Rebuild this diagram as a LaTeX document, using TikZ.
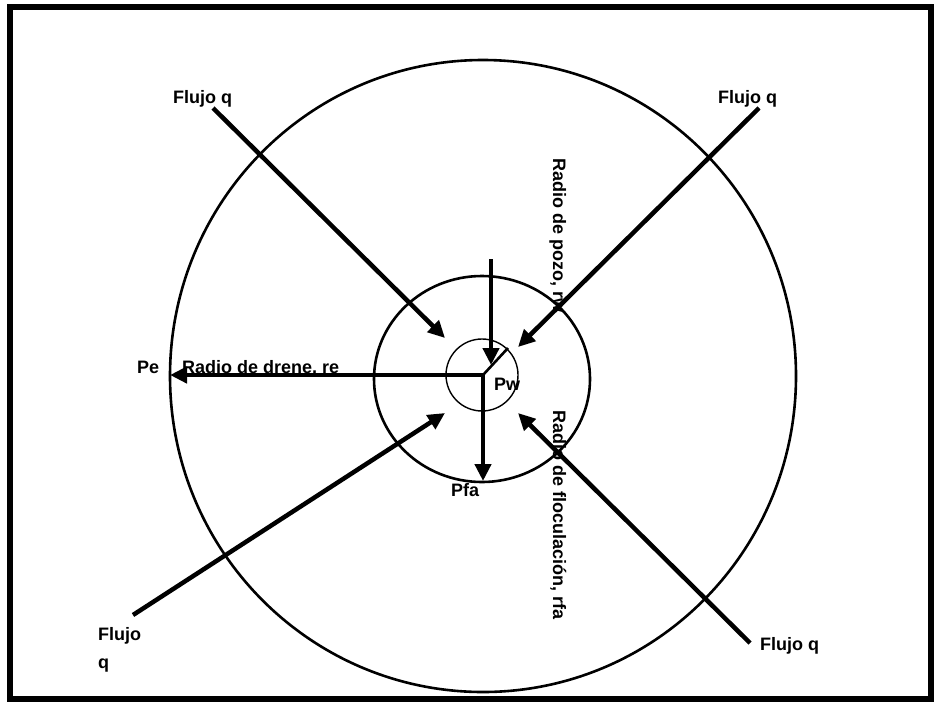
\documentclass[tikz,border=0pt]{standalone}
\usepackage{fontspec}
\setmainfont{Liberation Sans}
\usetikzlibrary{arrows.meta}

\begin{document}
\begin{tikzpicture}[x=1pt, y=1pt,
  flow/.style={-{Triangle[length=17pt,width=16pt]}, line width=4.5pt},
  ring/.style={line width=2.6pt},
  lbl/.style={font=\fontsize{18}{28}\selectfont\bfseries, inner sep=0pt},
]

  \useasboundingbox (0,0) rectangle (936,-702);

  % Frame
  \draw[line width=6pt] (10,-7) rectangle (931,-699);

  % Circles
  \coordinate (c) at (483,-375);
  \draw[ring] (483,-376) ellipse [x radius=313, y radius=316];
  \draw[ring] (482,-379) ellipse [x radius=108, y radius=103];
  \draw[line width=1.4pt] (482,-375) circle (36);

  % End points
  \coordinate (pe) at (170,-375);
  \coordinate (pfa) at (483,-481);
  \coordinate (rw) at (508,-348);
  \coordinate (top) at (491,-259);
  \coordinate (topend) at (491,-365);
  \coordinate (ul) at (213,-108);
  \coordinate (ulend) at (445,-338);
  \coordinate (ur) at (759,-108);
  \coordinate (urend) at (518,-347);
  \coordinate (ll) at (133,-615);
  \coordinate (llend) at (445,-413);
  \coordinate (lr) at (750,-643);
  \coordinate (lrend) at (518,-413);

  % Radii
  \draw[flow] (c) -- (pe);
  \draw[flow] (c) -- (pfa);
  \draw[line width=2.6pt] (c) -- (rw);
  \draw[flow] (top) -- (topend);

  % Flow arrows
  \draw[flow] (ul) -- (ulend);
  \draw[flow] (ur) -- (urend);
  \draw[flow] (ll) -- (llend);
  \draw[flow] (lr) -- (lrend);

  % Labels
  \node[lbl, anchor=base west] (qul) at (173,-103) {Flujo q};
  \node[lbl, anchor=base west] (qur) at (718,-103) {Flujo q};
  \node[lbl, anchor=base west] (qlr) at (760,-650) {Flujo q};
  \node[lbl, anchor=base west, align=left] (qll) at (98,-668) {Flujo\\q};
  \node[lbl, anchor=base west] (lpe) at (137,-373) {Pe};
  \node[lbl, anchor=base west] (lre) at (182,-373) {Radio de drene, re};
  \node[lbl, anchor=base west] (lpw) at (494,-390) {Pw};
  \node[lbl, anchor=base west] (lpfa) at (451,-496) {Pfa};
  \node[lbl, anchor=base west, rotate=-90] (lrw) at (553,-158) {Radio de pozo, rw};
  \node[lbl, anchor=base west, rotate=-90] (lrfa) at (553,-410) {Radio de floculación, rfa};

\end{tikzpicture}
\end{document}
